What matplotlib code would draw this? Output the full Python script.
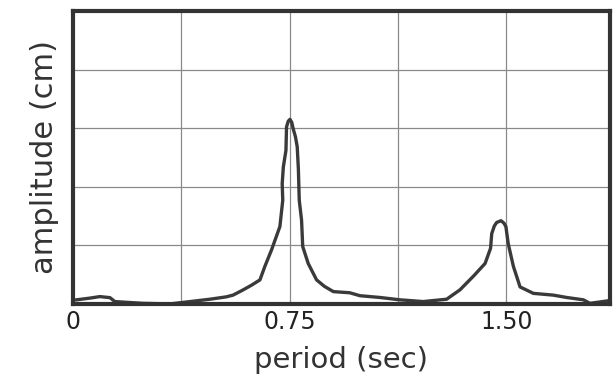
import matplotlib
matplotlib.use("Agg")
import matplotlib.pyplot as plt

# period (sec) and amplitude (grid units)
period = [0.013, 0.060, 0.093, 0.128, 0.145, 0.242, 0.336, 0.405, 0.474, 0.530,
          0.554, 0.589, 0.618, 0.647, 0.664, 0.687, 0.716, 0.726, 0.724, 0.728,
          0.737, 0.739, 0.745, 0.751, 0.757, 0.762, 0.770, 0.776, 0.780, 0.783,
          0.791, 0.795, 0.814, 0.843, 0.870, 0.901, 0.958, 0.993, 1.062, 1.131,
          1.212, 1.293, 1.339, 1.385, 1.426, 1.445, 1.449, 1.458, 1.466, 1.481,
          1.491, 1.498, 1.506, 1.524, 1.547, 1.593, 1.662, 1.708, 1.766, 1.789,
          1.847]
amplitude = [0.07, 0.10, 0.125, 0.107, 0.04, 0.01, 0.0, 0.04, 0.08, 0.12,
             0.15, 0.24, 0.32, 0.41, 0.64, 0.92, 1.32, 1.77, 2.05, 2.34,
             2.62, 3.02, 3.12, 3.15, 3.10, 2.99, 2.85, 2.68, 2.30, 1.77,
             1.43, 0.98, 0.69, 0.41, 0.30, 0.21, 0.19, 0.14, 0.11, 0.07,
             0.04, 0.08, 0.24, 0.47, 0.69, 0.95, 1.20, 1.33, 1.39, 1.42,
             1.38, 1.32, 1.03, 0.64, 0.29, 0.18, 0.15, 0.11, 0.07, 0.01,
             0.05]

x_ticks = [0, 0.75, 1.50]
x_tick_labels = ["0", "0.75", "1.50"]

fig = plt.figure(figsize=(6.13, 3.78), dpi=100)
ax = fig.add_axes([0.119, 0.196, 0.876, 0.775])

ax.plot(period, amplitude, color="#3a3a3a", linewidth=2.4, solid_joinstyle="round")

ax.set_xlim(0, 1.858)
ax.set_ylim(0, 5)
ax.set_xticks([0.375, 0.75, 1.125, 1.5])
ax.set_yticks([1, 2, 3, 4])
ax.grid(True, color="#8a8a8a", linewidth=0.9)
ax.tick_params(length=0, labelbottom=False, labelleft=False)

for t, lab in zip(x_ticks, x_tick_labels):
    ax.text(t, -0.1, lab, ha="center", va="top", fontsize=17, color="#222222")

for s in ax.spines.values():
    s.set_linewidth(3)
    s.set_color("#333333")

ax.set_xlabel("period (sec)", fontsize=21, color="#333333", labelpad=30)
ax.set_ylabel("amplitude (cm)", fontsize=22, color="#333333", labelpad=10)

fig.savefig("out.png", dpi=100)
